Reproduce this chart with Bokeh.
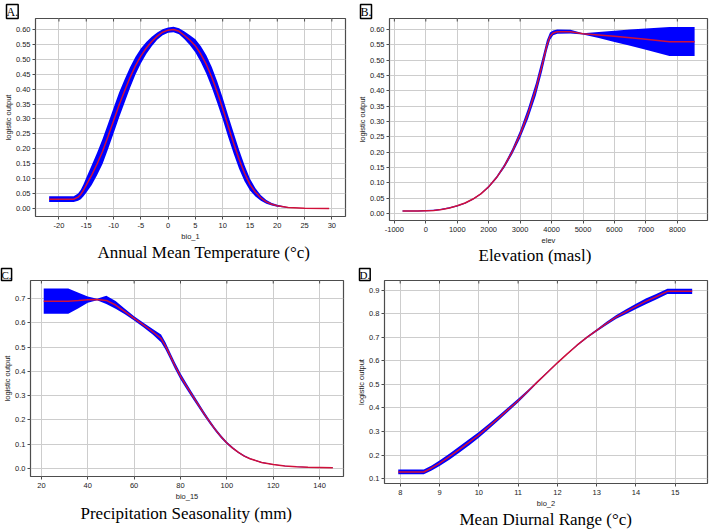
import math
from bokeh.plotting import figure
from bokeh.layouts import column, row
from bokeh.models import FixedTicker, NumeralTickFormatter, Title, ColumnDataSource
from bokeh.embed import file_html
from bokeh.resources import INLINE

# ---------------- Panel A: Annual Mean Temperature (bio_1) ----------------
a_x = [-21.8, -17.3, -16.5, -16.0, -15.5, -15.0, -14.0, -13.0, -12.0, -11.0, -10.0, -9.0, -8.0, -7.0,
       -6.0, -5.0, -4.0, -3.0, -2.0, -1.0, 0.0, 1.0, 2.0, 3.0, 4.0, 5.0, 6.0, 7.0, 8.0, 9.0, 10.0,
       11.0, 12.0, 13.0, 14.0, 15.0, 16.0, 17.0, 18.0, 19.0, 20.0, 22.0, 25.0, 29.5]
a_mean = [0.031, 0.031, 0.038, 0.047, 0.061, 0.078, 0.112, 0.150, 0.192, 0.242, 0.294, 0.346, 0.393, 0.438,
          0.478, 0.511, 0.538, 0.560, 0.578, 0.591, 0.598, 0.600, 0.594, 0.580, 0.564, 0.545, 0.517, 0.483,
          0.440, 0.390, 0.335, 0.276, 0.219, 0.165, 0.118, 0.080, 0.054, 0.035, 0.022, 0.014, 0.009, 0.003,
          0.001, 0.000]
a_sd = [0.0095, 0.0095, 0.012, 0.016, 0.020, 0.025, 0.033, 0.038, 0.042, 0.043, 0.043, 0.042, 0.039, 0.035,
        0.030, 0.025, 0.020, 0.016, 0.012, 0.010, 0.009, 0.009, 0.010, 0.013, 0.017, 0.022, 0.027, 0.031,
        0.034, 0.036, 0.036, 0.036, 0.035, 0.032, 0.027, 0.020, 0.014, 0.009, 0.006, 0.004, 0.003, 0.001,
        0.000, 0.000]
a_xticks = [-20, -15, -10, -5, 0, 5, 10, 15, 20, 25, 30]
a_yticks = [0.0, 0.05, 0.10, 0.15, 0.20, 0.25, 0.30, 0.35, 0.40, 0.45, 0.50, 0.55, 0.60]

# ---------------- Panel B: Elevation (elev) ----------------
b_x = [-740, -250, 0, 250, 500, 750, 1000, 1250, 1500, 1750, 2000, 2250, 2500, 2750, 3000, 3250, 3500,
       3700, 3850, 3950, 4050, 4180, 4600, 5000, 5500, 6000, 6500, 7000, 7750, 8550]
b_mean = [0.008, 0.008, 0.009, 0.010, 0.013, 0.018, 0.025, 0.034, 0.047, 0.064, 0.087, 0.117, 0.155, 0.202,
          0.258, 0.325, 0.405, 0.484, 0.548, 0.578, 0.589, 0.593, 0.593, 0.586, 0.582, 0.578, 0.573, 0.568,
          0.560, 0.560]
b_upper = [0.010, 0.010, 0.011, 0.012, 0.015, 0.020, 0.027, 0.036, 0.049, 0.066, 0.090, 0.121, 0.161, 0.211,
           0.271, 0.342, 0.425, 0.504, 0.565, 0.590, 0.597, 0.600, 0.599, 0.588, 0.592, 0.596, 0.600, 0.603,
           0.608, 0.608]
b_lower = [0.006, 0.006, 0.007, 0.008, 0.011, 0.016, 0.023, 0.032, 0.045, 0.062, 0.084, 0.113, 0.149, 0.193,
           0.245, 0.308, 0.385, 0.464, 0.531, 0.566, 0.581, 0.586, 0.587, 0.584, 0.572, 0.559, 0.547, 0.534,
           0.514, 0.514]
b_xticks = [-1000, 0, 1000, 2000, 3000, 4000, 5000, 6000, 7000, 8000]
b_yticks = [0.0, 0.05, 0.10, 0.15, 0.20, 0.25, 0.30, 0.35, 0.40, 0.45, 0.50, 0.55, 0.60]

# ---------------- Panel C: Precipitation Seasonality (bio_15) ----------------
c_x = [21, 31.6, 36, 40, 44, 48, 52, 56, 60, 64, 68, 71.6, 73.5, 75, 77.5, 80, 82.5, 85, 87.5, 90,
       92.5, 95, 97.5, 100, 102.5, 105, 107.5, 110, 115, 120, 125, 130, 135, 140, 145.7]
c_mean = [0.689, 0.689, 0.692, 0.695, 0.696, 0.692, 0.673, 0.646, 0.618, 0.591, 0.563, 0.536, 0.505, 0.475,
          0.425, 0.379, 0.340, 0.302, 0.265, 0.228, 0.193, 0.160, 0.131, 0.105, 0.084, 0.066, 0.051, 0.040,
          0.025, 0.016, 0.010, 0.007, 0.005, 0.004, 0.003]
c_upper = [0.741, 0.741, 0.724, 0.708, 0.699, 0.711, 0.690, 0.658, 0.627, 0.600, 0.574, 0.552, 0.520, 0.489,
           0.438, 0.392, 0.352, 0.313, 0.275, 0.237, 0.201, 0.167, 0.137, 0.110, 0.088, 0.069, 0.054, 0.042,
           0.027, 0.017, 0.011, 0.008, 0.006, 0.005, 0.004]
c_lower = [0.637, 0.637, 0.660, 0.682, 0.693, 0.677, 0.658, 0.635, 0.609, 0.582, 0.552, 0.520, 0.490, 0.461,
           0.412, 0.366, 0.328, 0.291, 0.255, 0.219, 0.185, 0.153, 0.125, 0.100, 0.080, 0.063, 0.048, 0.038,
           0.023, 0.015, 0.009, 0.006, 0.004, 0.003, 0.002]
c_xticks = [20, 40, 60, 80, 100, 120, 140]
c_yticks = [0.0, 0.1, 0.2, 0.3, 0.4, 0.5, 0.6, 0.7]

# ---------------- Panel D: Mean Diurnal Range (bio_2) ----------------
d_x = [7.95, 8.6, 8.8, 9.0, 9.25, 9.5, 9.75, 10.0, 10.25, 10.5, 10.75, 11.0, 11.25, 11.5, 11.75, 12.0,
       12.25, 12.5, 12.75, 13.0, 13.25, 13.5, 13.75, 14.0, 14.25, 14.5, 14.8, 15.43]
d_mean = [0.128, 0.128, 0.145, 0.165, 0.193, 0.223, 0.254, 0.286, 0.321, 0.357, 0.394, 0.431, 0.471, 0.512,
          0.552, 0.592, 0.630, 0.667, 0.700, 0.730, 0.760, 0.787, 0.810, 0.832, 0.853, 0.872, 0.896, 0.896]
d_sd = [0.010, 0.010, 0.011, 0.012, 0.013, 0.013, 0.013, 0.012, 0.011, 0.010, 0.009, 0.008, 0.006, 0.004,
        0.003, 0.002, 0.002, 0.003, 0.004, 0.005, 0.007, 0.008, 0.010, 0.011, 0.012, 0.012, 0.011, 0.011]
d_xticks = [8, 9, 10, 11, 12, 13, 14, 15]
d_yticks = [0.1, 0.2, 0.3, 0.4, 0.5, 0.6, 0.7, 0.8, 0.9]

BAND = "#0000ff"
MEAN = "#d0103a"
FRAME = "#4d4d4d"
GRID = "#cdcdcd"


def panel(x, mean, lower, upper, xr, yr, xticks, yticks, xfmt, yfmt, xlabel, caption, tag,
          W, H, bl, br, bt, bb, cap_offset, cap_standoff, tag_offset, tag_size):
    p = figure(width=W, height=H, x_range=xr, y_range=yr, output_backend="svg",
               toolbar_location=None, title=None, frame_align=False,
               min_border_left=bl, min_border_right=br, min_border_top=bt, min_border_bottom=bb,
               background_fill_color="white", border_fill_color="white")
    src = ColumnDataSource(dict(x=x, m=mean, lo=lower, hi=upper))
    p.varea(x="x", y1="lo", y2="hi", source=src, fill_color=BAND)
    p.line(x="x", y="m", source=src, line_color=MEAN, line_width=1.5)

    # short inward tick marks along the top edge (half of each dash is clipped by the frame)
    p.scatter(x=xticks, y=[yr[1]] * len(xticks), marker="dash", angle=math.pi / 2, size=6,
              line_color=FRAME, line_width=1)

    p.outline_line_color = FRAME
    p.outline_line_width = 1.2
    p.xaxis.ticker = FixedTicker(ticks=xticks)
    p.yaxis.ticker = FixedTicker(ticks=yticks)
    p.xgrid.ticker = FixedTicker(ticks=xticks)
    p.ygrid.ticker = FixedTicker(ticks=yticks)
    p.xaxis.formatter = NumeralTickFormatter(format=xfmt)
    p.yaxis.formatter = NumeralTickFormatter(format=yfmt)
    for g in (p.xgrid, p.ygrid):
        g.grid_line_color = GRID
        g.grid_line_width = 1
    for ax in (p.xaxis, p.yaxis):
        ax.axis_line_color = None
        ax.major_tick_line_color = FRAME
        ax.major_tick_out = 3
        ax.major_tick_in = 0
        ax.minor_tick_line_color = None
        ax.major_label_text_font = "Liberation Sans"
        ax.major_label_text_font_size = "7.5px"
        ax.major_label_text_color = "#222222"
        ax.axis_label_text_font = "Liberation Sans"
        ax.axis_label_text_font_size = "7.5px"
        ax.axis_label_text_font_style = "normal"
        ax.axis_label_text_color = "#222222"
    p.yaxis.major_label_standoff = 2
    p.yaxis.axis_label_standoff = 0
    p.xaxis.major_label_standoff = 3
    p.xaxis.axis_label_standoff = 1
    p.xaxis.axis_label = xlabel
    p.yaxis.axis_label = "logistic output"

    cap = Title(text=caption, align="left", offset=cap_offset, standoff=cap_standoff,
                vertical_align="top",
                text_font="Liberation Serif", text_font_size="17px", text_font_style="normal",
                text_color="black")
    p.add_layout(cap, "below")
    tg = Title(text=tag, align="left", offset=tag_offset, standoff=0, vertical_align="bottom",
               text_font="Liberation Serif", text_font_size=tag_size, text_font_style="normal",
               text_color="black", border_line_color="black", border_line_width=1.5,
               background_fill_color="white")
    p.add_layout(tg, "above")
    return p


a_lo = [m - s for m, s in zip(a_mean, a_sd)]
a_hi = [m + s for m, s in zip(a_mean, a_sd)]
d_lo = [m - s for m, s in zip(d_mean, d_sd)]
d_hi = [m + s for m, s in zip(d_mean, d_sd)]

pA = panel(a_x, a_mean, a_lo, a_hi, (-24.3, 32.5), (-0.027, 0.637), a_xticks, a_yticks, "0", "0.00",
           "bio_1", "Annual Mean Temperature (°c)", "A.",
           354, 266, 27, 9, 18, 50, 62, -2, -29, "12px")
pB = panel(b_x, b_mean, b_lower, b_upper, (-1155, 8960), (-0.023, 0.636), b_xticks, b_yticks, "0", "0.00",
           "elev", "Elevation (masl)", "B.",
           355, 266, 27, 2, 18, 46, 89, -4, -29, "12px")
pC = panel(c_x, c_mean, c_lower, c_upper, (15.3, 150.3), (-0.033, 0.774), c_xticks, c_yticks, "0", "0.0",
           "bio_15", "Precipitation Seasonality (mm)", "C.",
           354, 266, 27, 11, 13, 56, 50, 0, -29, "11px")
pD = panel(d_x, d_mean, d_lo, d_hi, (7.6, 15.82), (0.079, 0.942), d_xticks, d_yticks, "0", "0.0",
           "bio_2", "Mean Diurnal Range (°c)", "D.",
           355, 266, 23, 2, 13, 49, 75, -1, -25, "11px")

layout = column(row(pA, pB), row(pC, pD))
open("out.html", "w").write(file_html(layout, INLINE))
